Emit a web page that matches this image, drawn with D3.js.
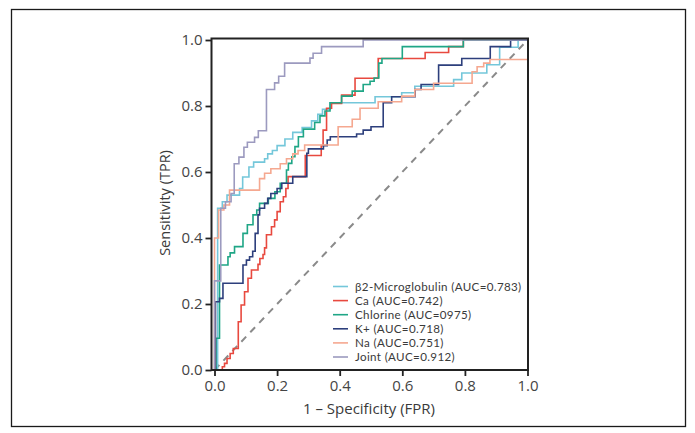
<!DOCTYPE html>
<html>
<head>
<meta charset="utf-8">
<script src="https://cdn.jsdelivr.net/npm/d3@7"></script>
<style>
  html, body { margin: 0; padding: 0; background: #fff; }
  svg { display: block; font-family: "Open Sans", "Lato", sans-serif; }
</style>
</head>
<body>
<svg id="chart" width="695" height="433"></svg>
<script>
// ---- data ----
const seriesNames = ["β2-Microglobulin", "Ca", "Chlorine", "K+", "Na", "Joint"];
const aucLabels = ["0.783", "0.742", "0975", "0.718", "0.751", "0.912"];
const seriesColors = ["#74C7DA", "#E8493F", "#1FA686", "#2D3F7C", "#F5A890", "#9C9ABF"];
const xTicks = [0, 0.2, 0.4, 0.6, 0.8, 1.0];
const yTicks = [0, 0.2, 0.4, 0.6, 0.8, 1.0];

// step points: [fpr, tpr] -> at fpr the TPR rises to tpr
const rocB2 = [[0,0],[0.01,0.49],[0.025,0.51],[0.04,0.53],[0.08,0.55],[0.09,0.585],[0.11,0.615],[0.125,0.63],[0.16,0.64],[0.17,0.655],[0.185,0.665],[0.2,0.68],[0.225,0.70],[0.25,0.72],[0.28,0.735],[0.31,0.755],[0.33,0.775],[0.345,0.79],[0.37,0.81],[0.513,0.828],[0.598,0.84],[0.64,0.86],[0.764,0.88],[0.79,0.9],[0.87,0.925],[0.911,0.978],[0.97,1.0],[1,1]];
const rocCa = [[0.02,0],[0.025,0.01],[0.032,0.02],[0.04,0.035],[0.05,0.05],[0.06,0.065],[0.076,0.146],[0.085,0.197],[0.096,0.237],[0.107,0.278],[0.118,0.303],[0.139,0.32],[0.145,0.338],[0.155,0.35],[0.16,0.37],[0.166,0.41],[0.182,0.434],[0.192,0.455],[0.2,0.48],[0.21,0.51],[0.22,0.525],[0.228,0.55],[0.235,0.586],[0.29,0.65],[0.341,0.68],[0.347,0.727],[0.358,0.793],[0.374,0.808],[0.406,0.833],[0.449,0.884],[0.523,0.944],[0.673,0.962],[0.748,0.98],[0.795,1.0],[1,1]];
const rocCl = [[0,0],[0.005,0.096],[0.016,0.318],[0.043,0.343],[0.05,0.355],[0.064,0.374],[0.091,0.414],[0.105,0.44],[0.123,0.47],[0.135,0.485],[0.144,0.505],[0.172,0.52],[0.193,0.54],[0.21,0.566],[0.23,0.606],[0.236,0.626],[0.247,0.646],[0.257,0.677],[0.268,0.707],[0.284,0.73],[0.32,0.75],[0.337,0.77],[0.353,0.785],[0.369,0.81],[0.406,0.83],[0.44,0.845],[0.475,0.865],[0.497,0.875],[0.51,0.885],[0.525,0.93],[0.535,0.944],[0.6,0.98],[0.795,1.0],[1,1]];
const rocK = [[0,0],[0.003,0.207],[0.016,0.217],[0.027,0.263],[0.091,0.318],[0.102,0.333],[0.112,0.343],[0.122,0.36],[0.13,0.414],[0.139,0.47],[0.144,0.49],[0.16,0.505],[0.17,0.52],[0.18,0.535],[0.2,0.55],[0.215,0.566],[0.25,0.586],[0.295,0.657],[0.3,0.67],[0.348,0.68],[0.36,0.697],[0.37,0.707],[0.454,0.715],[0.475,0.727],[0.5,0.737],[0.539,0.81],[0.566,0.828],[0.641,0.85],[0.66,0.865],[0.716,0.924],[0.79,0.944],[0.881,0.98],[0.946,1.0],[1,1]];
const rocNa = [[0,0],[0,0.40],[0.013,0.485],[0.03,0.5],[0.048,0.545],[0.144,0.58],[0.16,0.596],[0.18,0.61],[0.21,0.625],[0.23,0.64],[0.25,0.655],[0.267,0.665],[0.288,0.682],[0.395,0.737],[0.44,0.76],[0.465,0.793],[0.523,0.813],[0.598,0.83],[0.64,0.85],[0.7,0.869],[0.823,0.904],[0.839,0.919],[0.86,0.93],[0.88,0.941],[1,0.941]];
const rocJoint = [[0,0],[0,0.27],[0.02,0.49],[0.035,0.51],[0.053,0.535],[0.063,0.625],[0.078,0.645],[0.094,0.675],[0.105,0.69],[0.128,0.705],[0.14,0.725],[0.166,0.85],[0.192,0.87],[0.205,0.89],[0.224,0.93],[0.305,0.945],[0.315,0.96],[0.342,0.98],[0.475,1.0],[1,1]];
const rocSeries = [rocB2, rocCa, rocCl, rocK, rocNa, rocJoint];
const chanceLine = [[0,0],[1,1]];

// ---- drawing ----
const svg = d3.select("#chart");

// outer border
svg.append("rect")
  .attr("x", 11.5).attr("y", 9.5)
  .attr("width", 674).attr("height", 417)
  .attr("fill", "none").attr("stroke", "#1a1a1a").attr("stroke-width", 1.3);

const x = d3.scaleLinear().domain([0, 1]).range([214.5, 527.5]);
const y = d3.scaleLinear().domain([0, 1]).range([370, 40]);

const g = svg.append("g");

// chance diagonal
g.append("path")
  .datum(chanceLine)
  .attr("d", d3.line().x(d => x(d[0])).y(d => y(d[1])))
  .attr("fill", "none").attr("stroke", "#8a8a8a")
  .attr("stroke-width", 2).attr("stroke-dasharray", "7,6");

// ROC curves
const line = d3.line().x(d => x(d[0])).y(d => y(d[1])).curve(d3.curveStepAfter);
rocSeries.forEach((s, i) => {
  g.append("path")
    .datum(s)
    .attr("d", line)
    .attr("fill", "none")
    .attr("stroke", seriesColors[i])
    .attr("stroke-width", 1.6);
});

// frame
const frameL = 211.5, frameR = 528, frameT = 38.5, frameB = 370;
svg.append("path")
  .attr("d", `M${frameL},${frameT}H${frameR}V${frameB}H${frameL}Z`)
  .attr("fill", "none").attr("stroke", "#222").attr("stroke-width", 2);

// axes
const xAxis = svg.append("g")
  .attr("transform", `translate(0,${frameB})`)
  .call(d3.axisBottom(x).tickValues(xTicks).tickFormat(d3.format(".1f")).tickSize(6).tickPadding(4));
const yAxis = svg.append("g")
  .attr("transform", `translate(${frameL},0)`)
  .call(d3.axisLeft(y).tickValues(yTicks).tickFormat(d3.format(".1f")).tickSize(6).tickPadding(3));
[xAxis, yAxis].forEach(a => {
  a.select(".domain").remove();
  a.selectAll(".tick line").attr("stroke", "#222").attr("stroke-width", 1.8);
  a.selectAll(".tick text")
    .attr("fill", "#444")
    .style("font-size", "15px")
    .style("font-family", '"Open Sans", sans-serif');
});

// axis titles
svg.append("text")
  .attr("x", 369).attr("y", 414)
  .attr("text-anchor", "middle")
  .attr("fill", "#3a3a3a")
  .style("font-size", "15px")
  .text("1 – Specificity (FPR)");
svg.append("text")
  .attr("transform", `translate(170,203) rotate(-90)`)
  .attr("text-anchor", "middle")
  .attr("fill", "#3a3a3a")
  .style("font-size", "14.5px")
  .text("Sensitivity (TPR)");

// legend
const legend = svg.append("g").attr("transform", "translate(333,286.5)");
seriesNames.forEach((name, i) => {
  const row = legend.append("g").attr("transform", `translate(0,${i * 14.1})`);
  row.append("line")
    .attr("x1", 0).attr("x2", 15).attr("y1", 0).attr("y2", 0)
    .attr("stroke", seriesColors[i]).attr("stroke-width", 1.6);
  row.append("text")
    .attr("x", 22).attr("y", 0).attr("dy", "0.35em")
    .attr("fill", "#3a3a3a")
    .style("font-family", "Lato, sans-serif")
    .style("font-size", "11.6px")
    .style("letter-spacing", "0.35px")
    .text(`${name} (AUC=${aucLabels[i]})`);
});
</script>
</body>
</html>
